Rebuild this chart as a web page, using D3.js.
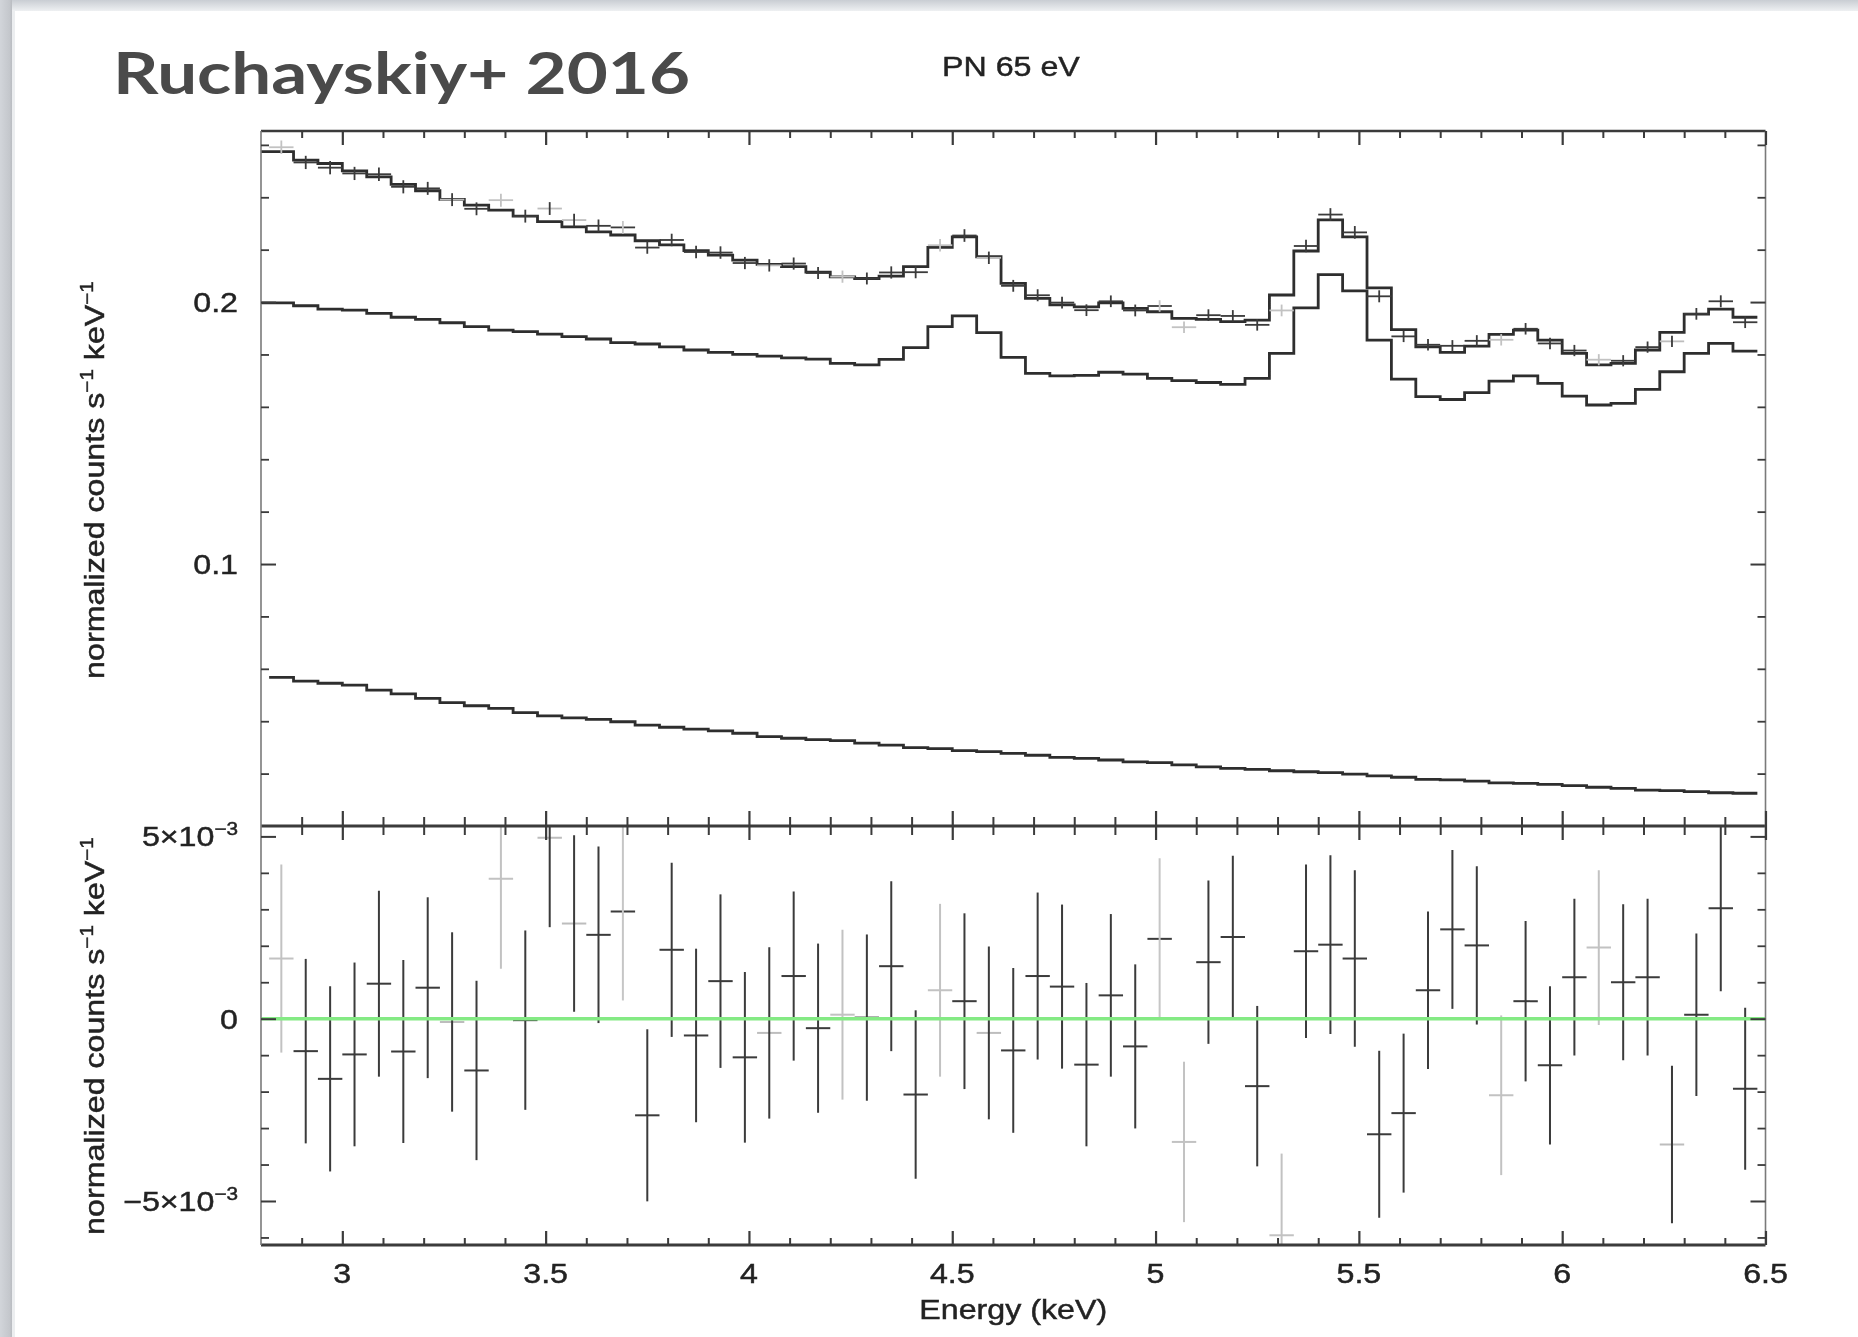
<!DOCTYPE html>
<html><head><meta charset="utf-8">
<script src="https://cdn.jsdelivr.net/npm/d3@7"></script>
<style>
html,body{margin:0;padding:0;background:#fff;}
svg{display:block;}
</style></head><body>
<svg id="c" width="1858" height="1337"></svg>
<script>
// ---------- DATA ----------
const binCenters = [2.85,2.91,2.97,3.03,3.09,3.15,3.21,3.27,3.33,3.39,
 3.45,3.51,3.57,3.63,3.69,3.75,3.81,3.87,3.93,3.99,
 4.05,4.11,4.17,4.23,4.29,4.35,4.41,4.47,4.53,4.59,
 4.65,4.71,4.77,4.83,4.89,4.95,5.01,5.07,5.13,5.19,
 5.25,5.31,5.37,5.43,5.49,5.55,5.61,5.67,5.73,5.79,
 5.85,5.91,5.97,6.03,6.09,6.15,6.21,6.27,6.33,6.39,6.45];
const binHalfWidth = 0.03;

const totalModel = [0.2574,0.2542,0.2529,0.2501,0.2478,0.2449,0.2425,0.2392,0.2370,0.2351,
 0.2328,0.2307,0.2287,0.2268,0.2256,0.2234,0.2218,0.2196,0.2179,0.2160,
 0.2144,0.2135,0.2114,0.2096,0.2090,0.2099,0.2135,0.2209,0.2249,0.2173,
 0.2071,0.2014,0.1989,0.1982,0.1997,0.1976,0.1963,0.1938,0.1934,0.1925,
 0.1931,0.2027,0.2195,0.2314,0.2249,0.2054,0.1895,0.1829,0.1808,0.1832,
 0.1877,0.1893,0.1855,0.1804,0.1760,0.1766,0.1817,0.1884,0.1954,0.1973,
 0.1942];

const lineComp = [0.1997,0.1986,0.1973,0.1969,0.1957,0.1942,0.1934,0.1921,0.1906,0.1893,
 0.1887,0.1878,0.1868,0.1859,0.1845,0.1840,0.1829,0.1817,0.1808,0.1800,
 0.1794,0.1787,0.1782,0.1766,0.1760,0.1781,0.1826,0.1906,0.1947,0.1883,
 0.1789,0.1728,0.1718,0.1720,0.1732,0.1725,0.1709,0.1700,0.1693,0.1686,
 0.1709,0.1804,0.1978,0.2105,0.2043,0.1855,0.1706,0.1639,0.1628,0.1654,
 0.1698,0.1718,0.1690,0.1641,0.1607,0.1613,0.1667,0.1734,0.1804,0.1842,
 0.1813];

const contComp = [0.0567,0.0553,0.0545,0.0538,0.0519,0.0504,0.0487,0.0471,0.0459,0.0449,
 0.0433,0.0420,0.0413,0.0407,0.0398,0.0385,0.0377,0.0370,0.0363,0.0354,
 0.0341,0.0335,0.0330,0.0326,0.0316,0.0309,0.0299,0.0295,0.0288,0.0284,
 0.0277,0.0270,0.0262,0.0258,0.0252,0.0245,0.0242,0.0233,0.0226,0.0220,
 0.0216,0.0211,0.0207,0.0204,0.0198,0.0191,0.0186,0.0178,0.0176,0.0171,
 0.0165,0.0163,0.0159,0.0154,0.0148,0.0144,0.0137,0.0135,0.0131,0.0127,
 0.0125];

const dataVals = [0.2591,0.2533,0.2513,0.2491,0.2488,0.2440,0.2434,0.2391,0.2356,0.2389,
 0.2328,0.2357,0.2313,0.2291,0.2285,0.2208,0.2237,0.2191,0.2189,0.2149,
 0.2140,0.2147,0.2111,0.2097,0.2090,0.2113,0.2114,0.2217,0.2254,0.2169,
 0.2062,0.2026,0.1998,0.1969,0.2003,0.1968,0.1985,0.1904,0.1950,0.1947,
 0.1913,0.1968,0.2214,0.2334,0.2266,0.2022,0.1869,0.1837,0.1833,0.1852,
 0.1856,0.1898,0.1842,0.1815,0.1780,0.1776,0.1828,0.1850,0.1955,0.2003,
 0.1923];

// residuals and errors in units of 1e-3 normalized counts s^-1 keV^-1
const residMilli = [1.65,-0.89,-1.65,-0.98,0.96,-0.90,0.85,-0.09,-1.42,3.84,
 -0.04,4.96,2.61,2.30,2.94,-2.65,1.89,-0.46,1.03,-1.06,
 -0.39,1.17,-0.26,0.11,0.03,1.44,-2.08,0.78,0.48,-0.39,
 -0.87,1.17,0.88,-1.26,0.64,-0.76,2.19,-3.38,1.55,2.24,
 -1.85,-5.94,1.85,2.03,1.65,-3.17,-2.59,0.78,2.45,2.01,
 -2.10,0.48,-1.28,1.14,1.95,1.00,1.14,-3.45,0.11,3.03,
 -1.92];
const errMilli = [2.58,2.53,2.54,2.52,2.55,2.51,2.48,2.46,2.46,2.47,
 2.46,2.45,2.42,2.42,2.44,2.36,2.39,2.38,2.38,2.34,
 2.35,2.32,2.32,2.33,2.28,2.33,2.31,2.37,2.41,2.37,
 2.26,2.29,2.25,2.24,2.23,2.25,2.21,2.20,2.24,2.23,
 2.20,2.24,2.38,2.45,2.42,2.29,2.18,2.16,2.18,2.17,
 2.19,2.20,2.17,2.15,2.12,2.14,2.15,2.16,2.23,2.28,
 2.22];

// bins drawn lighter in the reference
const faintAll = [0, 9, 23, 27, 37, 41, 50, 54];
const faintBar = [7, 11, 12, 20, 29, 57];
const faintErr = [14, 36];

const xTickVals = [3, 3.5, 4, 4.5, 5, 5.5, 6, 6.5];
const xTickLabels = ["3", "3.5", "4", "4.5", "5", "5.5", "6", "6.5"];
const yTopTickVals = [0.1, 0.2];
const yTopTickLabels = ["0.1", "0.2"];
const yBotTickVals = [5, 0, -5];
const yBotTickLabels = [["5×10", "−3"], ["0", ""], ["−5×10", "−3"]];

const titleText = "Ruchayskiy+ 2016";
const panelText = "PN 65 eV";
const xTitle = "Energy (keV)";

// ---------- LAYOUT ----------
const X0 = 261, X1 = 1765.5, YT0 = 131, YM = 826, YB1 = 1245;
const xS = d3.scaleLinear().domain([2.8, 6.5]).range([X0, X1]);
const yTopS = d3.scaleLinear().domain([0, 0.2653]).range([YM, YT0]);
const yBotS = d3.scaleLinear().domain([-6.207, 5.285]).range([YB1, YM]);

const svg = d3.select("#c");
const defs = svg.append("defs");
const grTop = defs.append("linearGradient").attr("id","gTop").attr("x1",0).attr("y1",0).attr("x2",0).attr("y2",1);
grTop.append("stop").attr("offset","0").attr("stop-color","#c9cdd3");
grTop.append("stop").attr("offset","1").attr("stop-color","#eef0f2");
const grLeft = defs.append("linearGradient").attr("id","gLeft").attr("x1",0).attr("y1",0).attr("x2",1).attr("y2",0);
grLeft.append("stop").attr("offset","0").attr("stop-color","#d2d5da");
grLeft.append("stop").attr("offset","0.8").attr("stop-color","#c4c7cc");
grLeft.append("stop").attr("offset","1").attr("stop-color","#b9bcc1");
defs.append("clipPath").attr("id","clipTop").append("rect")
  .attr("x",X0).attr("y",YT0).attr("width",X1-X0).attr("height",YM-YT0);
defs.append("clipPath").attr("id","clipBot").append("rect")
  .attr("x",X0).attr("y",YM).attr("width",X1-X0).attr("height",YB1-YM);
defs.append("filter").attr("id","soft").attr("x","-5%").attr("y","-5%").attr("width","110%").attr("height","110%")
  .append("feGaussianBlur").attr("stdDeviation",0.55);

// page background
svg.append("rect").attr("width",1858).attr("height",1337).attr("fill","#ffffff");
svg.append("rect").attr("x",0).attr("y",0).attr("width",1858).attr("height",11).attr("fill","url(#gTop)");
svg.append("rect").attr("x",0).attr("y",0).attr("width",12).attr("height",1337).attr("fill","url(#gLeft)");
svg.append("rect").attr("x",12).attr("y",11).attr("width",3).attr("height",1326).attr("fill","#eceef0");

// slide title
svg.append("text").attr("x",113).attr("y",94)
  .attr("font-family","Lato, 'Open Sans', sans-serif").attr("font-weight",700)
  .attr("font-size",58).attr("fill","#4a4a4a")
  .attr("textLength",577).attr("lengthAdjust","spacingAndGlyphs")
  .text(titleText);

const plot = svg.append("g").attr("filter","url(#soft)");
const FONT = "'Liberation Sans', Arial, Helvetica, sans-serif";
const INK = "#222";
function inkText(sel){
  return sel.attr("font-family",FONT).attr("font-size",28).attr("fill",INK)
    .attr("stroke",INK).attr("stroke-width",0.45);
}

inkText(plot.append("text").attr("transform","translate(942,76) scale(1.15,1)")).text(panelText);

// ---------- MODELS (step histograms) ----------
function stepPoints(vals, startAtAxis){
  const pts = binCenters.map((c,i) => [c - binHalfWidth, vals[i]]);
  if (startAtAxis) pts[0] = [xS.domain()[0], vals[0]];
  pts.push([binCenters[binCenters.length-1] + binHalfWidth, vals[vals.length-1]]);
  return pts;
}
const stepTop = d3.line().x(d => xS(d[0])).y(d => yTopS(d[1])).curve(d3.curveStepAfter);

const upperG = plot.append("g").attr("clip-path","url(#clipTop)");
[[totalModel,true],[lineComp,true],[contComp,false]].forEach(([vals,ax]) => {
  upperG.append("path").attr("d", stepTop(stepPoints(vals, ax)))
    .attr("fill","none").attr("stroke","#2e2e2e").attr("stroke-width",2.8);
});

function colorFor(i, part){
  if (faintAll.includes(i)) return "#c2c2c2";
  if (part === "bar" && faintBar.includes(i)) return "#bdbdbd";
  if (part === "err" && faintErr.includes(i)) return "#c6c6c6";
  return "#3a3a3a";
}
binCenters.forEach((c,i) => {
  const v = dataVals[i], e = errMilli[i] / 1000;
  upperG.append("line").attr("x1",xS(c-binHalfWidth)).attr("x2",xS(c+binHalfWidth))
    .attr("y1",yTopS(v)).attr("y2",yTopS(v)).attr("stroke",colorFor(i,"bar")).attr("stroke-width",1.8);
  upperG.append("line").attr("x1",xS(c)).attr("x2",xS(c))
    .attr("y1",yTopS(v-e)).attr("y2",yTopS(v+e)).attr("stroke",colorFor(i,"err")).attr("stroke-width",1.8);
});

// ---------- RESIDUALS ----------
const lowerG = plot.append("g").attr("clip-path","url(#clipBot)");
binCenters.forEach((c,i) => {
  const v = residMilli[i], e = errMilli[i];
  lowerG.append("line").attr("x1",xS(c-binHalfWidth)).attr("x2",xS(c+binHalfWidth))
    .attr("y1",yBotS(v)).attr("y2",yBotS(v)).attr("stroke",colorFor(i,"bar")).attr("stroke-width",2);
  lowerG.append("line").attr("x1",xS(c)).attr("x2",xS(c))
    .attr("y1",yBotS(v-e)).attr("y2",yBotS(v+e)).attr("stroke",colorFor(i,"err")).attr("stroke-width",2);
});
lowerG.append("line").attr("x1",X0).attr("x2",X1).attr("y1",yBotS(0)).attr("y2",yBotS(0))
  .attr("stroke","#84ea84").attr("stroke-width",3.5);

// ---------- FRAMES ----------
const frame = plot.append("g");
[[X0,YT0,X1,YT0,"#3a3a3a",2.6],[X0,YM,X1,YM,"#3a3a3a",3],[X0,YB1,X1,YB1,"#3a3a3a",3],
 [X0,YT0,X0,YB1,"#7a7a7a",1.6],[X1,YT0,X1,YB1,"#7a7a7a",1.6]].forEach(([a,b,c,d,col,w]) => {
  frame.append("line").attr("x1",a).attr("y1",b).attr("x2",c).attr("y2",d)
    .attr("stroke",col).attr("stroke-width",w);
});

// ---------- TICKS ----------
function tickSet(gen, tx, ty, vals, size, width){
  const g = plot.append("g").attr("transform",`translate(${tx},${ty})`)
    .call(gen.tickValues(vals).tickSizeInner(-size).tickSizeOuter(0).tickFormat(() => ""));
  g.select(".domain").remove();
  g.selectAll(".tick line").attr("stroke","#3a3a3a").attr("stroke-width",width);
  g.selectAll(".tick text").remove();
}
const xMinor = d3.range(29, 65).filter(v => v % 5 !== 0).map(v => v / 10);
const yTopMinor = d3.range(1, 14).filter(v => v % 5 !== 0).map(v => v * 0.02);
const yBotMinor = d3.range(-6, 6).filter(v => v % 5 !== 0);

tickSet(d3.axisTop(xS), 0, YT0, xTickVals, 14, 2.2);
tickSet(d3.axisTop(xS), 0, YT0, xMinor, 7, 2);
tickSet(d3.axisBottom(xS), 0, YM, xTickVals, 15, 2.2);
tickSet(d3.axisBottom(xS), 0, YM, xMinor, 9, 2);
tickSet(d3.axisLeft(yTopS), X0, 0, yTopTickVals, 15, 2);
tickSet(d3.axisLeft(yTopS), X0, 0, yTopMinor, 8, 1.8);
tickSet(d3.axisRight(yTopS), X1, 0, yTopTickVals, 15, 2);
tickSet(d3.axisRight(yTopS), X1, 0, yTopMinor, 8, 1.8);
tickSet(d3.axisTop(xS), 0, YM, xTickVals, 14, 2.2);
tickSet(d3.axisTop(xS), 0, YM, xMinor, 9, 2);
tickSet(d3.axisBottom(xS), 0, YB1, xTickVals, 14, 2.2);
tickSet(d3.axisBottom(xS), 0, YB1, xMinor, 7, 2);
tickSet(d3.axisLeft(yBotS), X0, 0, yBotTickVals, 15, 2);
tickSet(d3.axisLeft(yBotS), X0, 0, yBotMinor, 8, 1.8);
tickSet(d3.axisRight(yBotS), X1, 0, yBotTickVals, 15, 2);
tickSet(d3.axisRight(yBotS), X1, 0, yBotMinor, 8, 1.8);

// ---------- LABELS ----------
const SX = 1.15;
xTickVals.forEach((v,i) => {
  inkText(plot.append("text").attr("transform",`translate(${xS(v)},1283) scale(${SX},1)`)
    .attr("text-anchor","middle")).text(xTickLabels[i]);
});
inkText(plot.append("text").attr("transform",`translate(${(X0+X1)/2},1319) scale(${SX},1)`)
  .attr("text-anchor","middle")).text(xTitle);

yTopTickVals.forEach((v,i) => {
  inkText(plot.append("text").attr("transform",`translate(238,${yTopS(v)+10}) scale(${SX},1)`)
    .attr("text-anchor","end")).text(yTopTickLabels[i]);
});
yBotTickVals.forEach((v,i) => {
  const t = inkText(plot.append("text").attr("transform",`translate(238,${yBotS(v)+10}) scale(${SX},1)`)
    .attr("text-anchor","end"));
  t.append("tspan").text(yBotTickLabels[i][0]);
  if (yBotTickLabels[i][1]) t.append("tspan").attr("dy",-11).attr("font-size",18).text(yBotTickLabels[i][1]);
});

function yTitle(cy){
  const t = inkText(plot.append("text").attr("transform",`translate(104,${cy}) rotate(-90) scale(${SX},1)`)
    .attr("text-anchor","middle"));
  t.append("tspan").text("normalized counts s");
  t.append("tspan").attr("dy",-11).attr("font-size",18).text("−1");
  t.append("tspan").attr("dy",11).text(" keV");
  t.append("tspan").attr("dy",-11).attr("font-size",18).text("−1");
}
yTitle(480);
yTitle(1036);
</script>
</body></html>
